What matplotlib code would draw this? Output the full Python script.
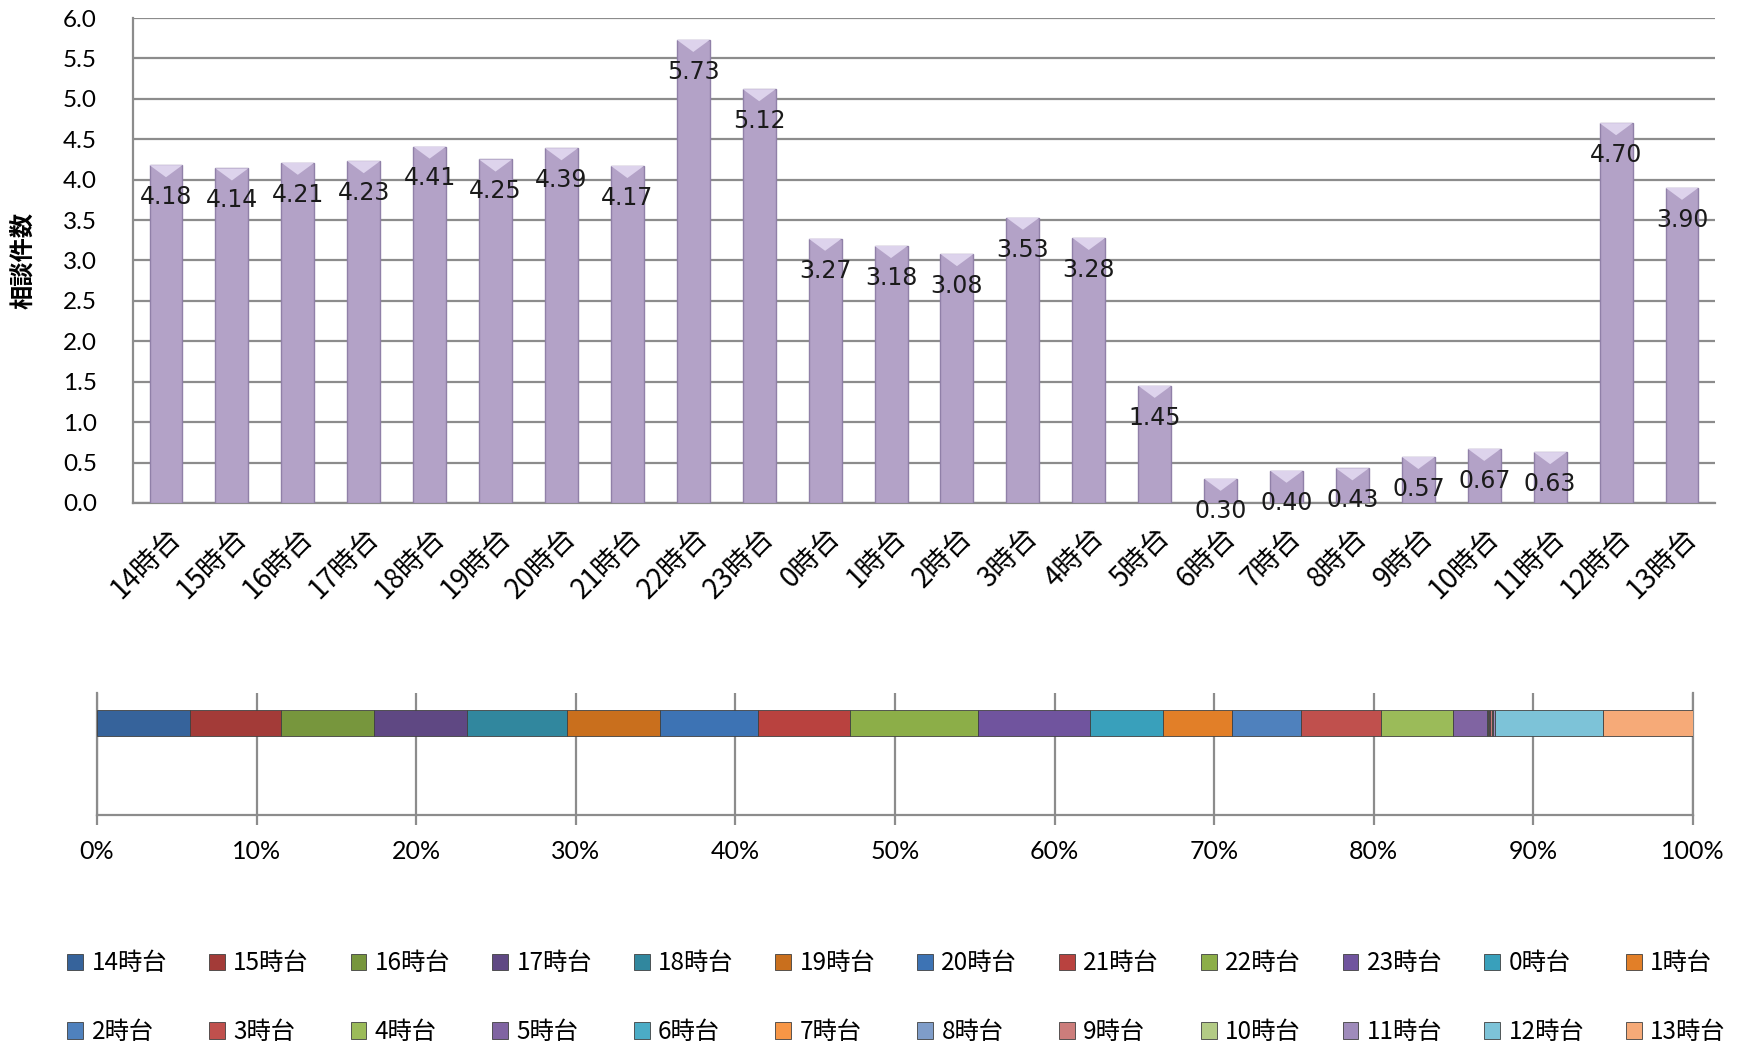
import numpy as np
import matplotlib
matplotlib.use("Agg")
import matplotlib.pyplot as plt

plt.rcParams['font.family'] = ['Noto Sans CJK JP', 'DejaVu Sans']

# hours, in the order shown on the chart
hours = ['14時台', '15時台', '16時台', '17時台', '18時台', '19時台', '20時台', '21時台',
         '22時台', '23時台', '0時台', '1時台', '2時台', '3時台', '4時台', '5時台',
         '6時台', '7時台', '8時台', '9時台', '10時台', '11時台', '12時台', '13時台']

# average consultations per hour
counts = [4.18, 4.14, 4.21, 4.23, 4.41, 4.25, 4.39, 4.17, 5.73, 5.12, 3.27, 3.18,
          3.08, 3.53, 3.28, 1.45, 0.30, 0.40, 0.43, 0.57, 0.67, 0.63, 4.70, 3.90]

# share of each hour in the 100% bar
shares = [5.80, 5.73, 5.80, 5.87, 6.22, 5.87, 6.15, 5.73, 8.04, 6.99, 4.61, 4.33,
          4.33, 4.96, 4.54, 2.10, 0.08, 0.08, 0.08, 0.09, 0.09, 0.08, 6.78, 5.66]

seg_colors = ['#36639b', '#a33b38', '#77963d', '#5f4883', '#31879e', '#c96f1d',
              '#3d73b4', '#b9423f', '#8cae48', '#70549e', '#39a0bb', '#e27f28',
              '#4f81bd', '#c0504d', '#9bbb59', '#8064a2', '#4bacc6', '#f79646',
              '#7f9dc9', '#cc7d7b', '#b3cb85', '#9f8bbb', '#7dc3d8', '#f6aa78']

grid_c = '#8c8c8c'
bar_w = 0.5

fig = plt.figure(figsize=(17.48, 10.47), dpi=100)

# ---- top: bar chart
ax1 = fig.add_axes([0.0761, 0.5196, 0.905, 0.4632])
x = np.arange(len(hours))
ax1.bar(x, counts, width=bar_w, color='#b3a2c7', edgecolor='#9080a8', linewidth=1, zorder=3)
# light bevel on the top of each bar
for xi, v in zip(x, counts):
    ax1.fill([xi - bar_w / 2, xi + bar_w / 2, xi], [v, v, v - 0.15],
             color='#ddd3ec', lw=0, zorder=3.5)
for xi, v in zip(x, counts):
    ax1.annotate('%.2f' % v, (xi, v), xytext=(0, -23), textcoords='offset points',
                 ha='center', va='center', fontsize=17, family='DejaVu Sans',
                 color='#1a1a1a', zorder=4)

ax1.set_xlim(-0.5, len(hours) - 0.5)
ax1.set_ylim(0, 6)
ax1.set_yticks(np.arange(0, 6.01, 0.5))
ax1.set_yticklabels(['%.1f' % t for t in np.arange(0, 6.01, 0.5)], family='Lato', fontsize=17.5)
ax1.set_xticks(x)
ax1.set_xticklabels(hours, rotation=45, ha='right', va='top', rotation_mode='anchor', fontsize=20)
ax1.tick_params(axis='y', length=0, pad=26)
ax1.tick_params(axis='x', length=0, pad=14)
ax1.yaxis.grid(True, color=grid_c, linewidth=1.6)
ax1.set_axisbelow(True)
for s in ['top', 'right']:
    ax1.spines[s].set_visible(False)
for s in ['left', 'bottom']:
    ax1.spines[s].set_color(grid_c)
    ax1.spines[s].set_linewidth(1.6)
ax1.set_ylabel('相談件数', fontsize=17.5, fontweight='bold')
ax1.yaxis.set_label_coords(-0.062, 0.50)

# ---- bottom: 100% stacked bar
ax2 = fig.add_axes([0.0555, 0.2216, 0.913, 0.1165])
left = 0.0
handles = []
for name, share, c in zip(hours, shares, seg_colors):
    h = ax2.barh(0.754, share, left=left, height=0.213, color=c,
                 edgecolor='#404040', linewidth=0.6, label=name, zorder=3)
    handles.append(h)
    left += share
ax2.set_xlim(0, 100)
ax2.set_ylim(0, 1)
ax2.set_yticks([])
ax2.set_xticks(np.arange(0, 101, 10))
ax2.set_xticklabels(['%d%%' % t for t in range(0, 101, 10)], family='Lato', fontsize=18)
ax2.tick_params(axis='x', length=7, width=1.6, color=grid_c, pad=11)
ax2.xaxis.grid(True, color=grid_c, linewidth=1.6)
ax2.set_axisbelow(True)
ax2.spines['top'].set_visible(False)
for s in ['left', 'right', 'bottom']:
    ax2.spines[s].set_color(grid_c)
    ax2.spines[s].set_linewidth(1.6)

# legend: row-major order over two rows of 12
order = []
for i in range(12):
    order += [i, i + 12]
fig.legend([handles[i] for i in order], [hours[i] for i in order], ncol=12,
           loc='lower left', bbox_to_anchor=(0.026, -0.019), frameon=False,
           fontsize=17.5, handlelength=0.65, handleheight=0.65, handletextpad=0.35,
           columnspacing=1.72, labelspacing=1.75)

fig.savefig('out.png', dpi=100)
